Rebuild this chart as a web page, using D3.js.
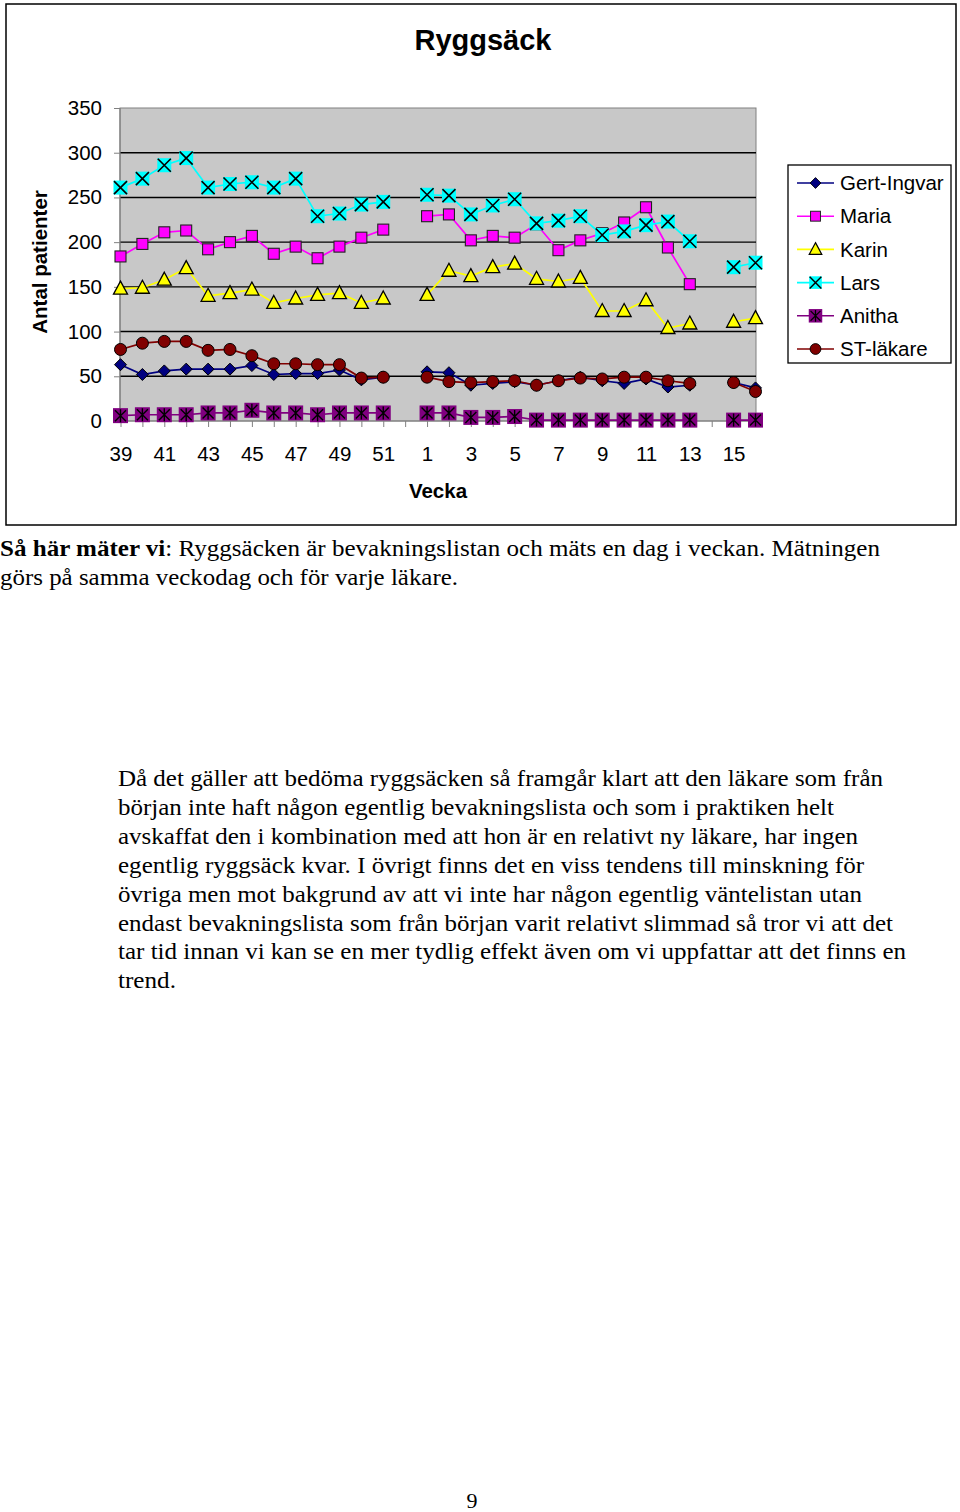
<!DOCTYPE html>
<html>
<head>
<meta charset="utf-8">
<script src="https://cdn.jsdelivr.net/npm/d3@7"></script>
<style>
  body { margin: 0; background: #fff; }
  svg { display: block; }
</style>
</head>
<body>
<div id="page"></div>
<script>

// DATA (veckor 39-52, 1-16)

const weeks = ["39","40","41","42","43","44","45","46","47","48","49","50","51","52",
               "1","2","3","4","5","6","7","8","9","10","11","12","13","14","15","16"];

const yTicks = [0, 50, 100, 150, 200, 250, 300, 350];

const gertIngvar = [63, 52, 56, 58, 58, 58, 62, 52, 53, 53, 57, 46, 49, null,
                    55, 54, 40, 42, 44, 40, 45, 49, 45, 42, 47, 38, 40, null, 43, 37];
const maria      = [184, 198, 211, 213, 192, 200, 207, 187, 195, 182, 195, 205, 214, null,
                    229, 231, 202, 207, 205, 220, 191, 202, 210, 222, 239, 194, 153, null, null, null];
const karin      = [148, 149, 158, 171, 140, 143, 147, 132, 137, 141, 143, 132, 137, null,
                    141, 168, 162, 172, 176, 159, 156, 160, 123, 123, 135, 104, 109, null, 111, 115];
const lars       = [261, 271, 286, 294, 261, 265, 267, 261, 271, 229, 232, 242, 245, null,
                    253, 252, 231, 241, 248, 221, 224, 229, 208, 212, 219, 223, 201, null, 172, 177];
const anitha     = [6, 7, 7, 7, 9, 9, 12, 9, 9, 7, 9, 9, 9, null,
                    9, 9, 4, 4, 5, 1, 1, 1, 1, 1, 1, 1, 1, null, 1, 1];
const stLakare   = [80, 87, 89, 89, 79, 80, 73, 64, 64, 63, 63, 48, 49, null,
                    49, 44, 43, 44, 45, 40, 45, 48, 47, 49, 49, 45, 42, null, 43, 33];

const seriesNames = ["Gert-Ingvar", "Maria", "Karin", "Lars", "Anitha", "ST-läkare"];
const seriesValues = [gertIngvar, maria, karin, lars, anitha, stLakare];
const seriesColors = ["#000080", "#ff00ff", "#ffff00", "#00ffff", "#800080", "#800000"];
const seriesMarkers = ["diamond", "square", "triangle", "cross", "star", "circle"];

const captionLines = [
  [{b: "Så här mäter vi"}, {t: ": Ryggsäcken är bevakningslistan och mäts en dag i veckan. Mätningen"}],
  [{t: "görs på samma veckodag och för varje läkare."}]
];
// right end of each text line in the scanned page (px)
const captionEnds = [880, 458];

const paragraphLines = [
  "Då det gäller att bedöma ryggsäcken så framgår klart att den läkare som från",
  "början inte haft någon egentlig bevakningslista och som i praktiken helt",
  "avskaffat den i kombination med att hon är en relativt ny läkare, har ingen",
  "egentlig ryggsäck kvar. I övrigt finns det en viss tendens till minskning för",
  "övriga men mot bakgrund av att vi inte har någon egentlig väntelistan utan",
  "endast bevakningslista som från början varit relativt slimmad så tror vi att det",
  "tar tid innan vi kan se en mer tydlig effekt även om vi uppfattar att det finns en",
  "trend."
];
const paragraphEnds = [883, 834, 858, 864, 862, 893, 906, 176];

const pageNumber = "9";


// SETUP

const W = 960, H = 1512;
const sans = "'Liberation Sans', Arial, sans-serif";
const serif = "'Liberation Serif', 'Times New Roman', serif";

const svg = d3.select("#page").append("svg")
  .attr("width", W)
  .attr("height", H);

const plot = {left: 120, right: 756, top: 108, bottom: 421};

const x = d3.scalePoint()
  .domain(weeks)
  .range([plot.left + 0.5, plot.right - 0.5]);

const y = d3.scaleLinear()
  .domain([0, 350])
  .range([plot.bottom, plot.top]);


// CHART FRAME

svg.append("rect")
  .attr("x", 6).attr("y", 4)
  .attr("width", 950).attr("height", 521)
  .attr("fill", "#fff")
  .attr("stroke", "#000")
  .attr("stroke-width", 1.5);

svg.append("text")
  .attr("x", 483).attr("y", 50)
  .attr("text-anchor", "middle")
  .attr("font-family", sans)
  .attr("font-weight", "bold")
  .attr("font-size", 29)
  .text("Ryggsäck");

svg.append("rect")
  .attr("x", plot.left).attr("y", plot.top)
  .attr("width", plot.right - plot.left)
  .attr("height", plot.bottom - plot.top)
  .attr("fill", "#c8c8c8")
  .attr("stroke", "#808080")
  .attr("stroke-width", 1);

// grid lines
svg.append("g")
  .selectAll("line")
  .data(yTicks.filter(d => d > 0 && d < 350))
  .enter()
  .append("line")
  .attr("x1", plot.left).attr("x2", plot.right)
  .attr("y1", d => y(d)).attr("y2", d => y(d))
  .attr("stroke", "#000")
  .attr("stroke-width", 1.4);


// AXES

const yAxis = svg.append("g")
  .attr("transform", `translate(${plot.left},0)`)
  .call(d3.axisLeft(y).tickValues(yTicks).tickSize(6).tickPadding(12));

const xAxis = svg.append("g")
  .attr("transform", `translate(0,${plot.bottom})`)
  .call(d3.axisBottom(x)
    .tickSize(6)
    .tickPadding(19)
    .tickFormat((d, i) => i % 2 === 0 ? d : ""));

[yAxis, xAxis].forEach(a => {
  a.select(".domain").attr("stroke", "#808080").attr("stroke-width", 1.2);
  a.selectAll(".tick line").attr("stroke", "#808080");
  a.selectAll(".tick text")
    .attr("fill", "#000")
    .attr("font-family", sans)
    .attr("font-size", 20.5);
});
xAxis.select(".domain").attr("d", `M${plot.left},0H${plot.right}`);
yAxis.select(".domain").attr("d", `M0,${plot.top}V${plot.bottom}`);

svg.append("text")
  .attr("transform", "translate(47,262) rotate(-90)")
  .attr("text-anchor", "middle")
  .attr("font-family", sans)
  .attr("font-weight", "bold")
  .attr("font-size", 20.5)
  .text("Antal patienter");

svg.append("text")
  .attr("x", 438).attr("y", 498)
  .attr("text-anchor", "middle")
  .attr("font-family", sans)
  .attr("font-weight", "bold")
  .attr("font-size", 20.5)
  .text("Vecka");


// MARKERS

function drawMarker(g, kind, color)
{
  if(kind === "diamond") {
    g.append("path").attr("d", "M0,-6L6,0L0,6L-6,0Z")
      .attr("fill", color).attr("stroke", "#000").attr("stroke-width", 1);
  } else if(kind === "square") {
    g.append("rect").attr("x", -5.5).attr("y", -5.5).attr("width", 11).attr("height", 11)
      .attr("fill", color).attr("stroke", "#222").attr("stroke-width", 1.1);
  } else if(kind === "triangle") {
    g.append("path").attr("d", "M0,-7.5L7,5.5L-7,5.5Z")
      .attr("fill", color).attr("stroke", "#000").attr("stroke-width", 1.3);
  } else if(kind === "cross") {
    g.append("rect").attr("x", -7).attr("y", -7).attr("width", 14).attr("height", 14)
      .attr("fill", color);
    g.append("path").attr("d", "M-6.5,-6.5L6.5,6.5M6.5,-6.5L-6.5,6.5")
      .attr("stroke", "#000").attr("stroke-width", 1.6);
  } else if(kind === "star") {
    g.append("rect").attr("x", -7.5).attr("y", -7.5).attr("width", 15).attr("height", 15)
      .attr("fill", color);
    g.append("path").attr("d", "M-5.5,-5.5L5.5,5.5M5.5,-5.5L-5.5,5.5M0,-6.5V6.5")
      .attr("stroke", "#000").attr("stroke-width", 1.4);
  } else if(kind === "circle") {
    g.append("circle").attr("r", 6)
      .attr("fill", color).attr("stroke", "#000").attr("stroke-width", 1);
  }
}


// SERIES

const line = d3.line()
  .defined(d => d.v != null)
  .x(d => x(d.w))
  .y(d => y(d.v));

const seriesData = seriesValues.map((vals, s) => ({
  name: seriesNames[s],
  color: seriesColors[s],
  marker: seriesMarkers[s],
  points: vals.map((v, i) => ({w: weeks[i], v: v}))
}));

const seriesG = svg.append("g").selectAll("g")
  .data(seriesData)
  .enter()
  .append("g");

seriesG.append("path")
  .attr("d", d => line(d.points))
  .attr("fill", "none")
  .attr("stroke", d => d.color)
  .attr("stroke-width", 1.7);

seriesG.each(function(s) {
  d3.select(this).selectAll("g.pt")
    .data(s.points.filter(p => p.v != null))
    .enter()
    .append("g")
    .attr("class", "pt")
    .attr("transform", p => `translate(${x(p.w)},${y(p.v)})`)
    .each(function() { drawMarker(d3.select(this), s.marker, s.color); });
});


// LEGEND

const legend = svg.append("g");

legend.append("rect")
  .attr("x", 788).attr("y", 165)
  .attr("width", 163).attr("height", 198)
  .attr("fill", "#fff")
  .attr("stroke", "#000")
  .attr("stroke-width", 1.3);

const legendItem = legend.selectAll("g.item")
  .data(seriesData)
  .enter()
  .append("g")
  .attr("class", "item")
  .attr("transform", (d, i) => `translate(0,${183 + i * 33.2})`);

legendItem.append("line")
  .attr("x1", 797).attr("x2", 834)
  .attr("stroke", d => d.color)
  .attr("stroke-width", 1.6);

legendItem.append("g")
  .attr("transform", "translate(815.5,0) scale(0.9)")
  .each(function(d) { drawMarker(d3.select(this), d.marker, d.color); });

legendItem.append("text")
  .attr("x", 840).attr("dy", "0.35em")
  .attr("font-family", sans)
  .attr("font-size", 20.5)
  .text(d => d.name);


// TEXT BELOW

const caption = svg.append("g")
  .attr("font-family", serif)
  .attr("font-size", 23);

captionLines.forEach((parts, i) => {
  const t = caption.append("text")
    .attr("x", 0).attr("y", 556 + i * 29)
    .attr("textLength", captionEnds[i])
    .attr("lengthAdjust", "spacingAndGlyphs");
  parts.forEach(p => {
    t.append("tspan")
      .attr("font-weight", p.b ? "bold" : null)
      .text(p.b || p.t);
  });
});

svg.append("g")
  .attr("font-family", serif)
  .attr("font-size", 23)
  .selectAll("text")
  .data(paragraphLines)
  .enter()
  .append("text")
  .attr("x", 118)
  .attr("y", (d, i) => 786 + i * 28.9)
  .attr("textLength", (d, i) => paragraphEnds[i] - 118)
  .attr("lengthAdjust", "spacingAndGlyphs")
  .text(d => d);

svg.append("text")
  .attr("x", 472).attr("y", 1508)
  .attr("text-anchor", "middle")
  .attr("font-family", serif)
  .attr("font-size", 22)
  .text(pageNumber);

</script>
</body>
</html>
